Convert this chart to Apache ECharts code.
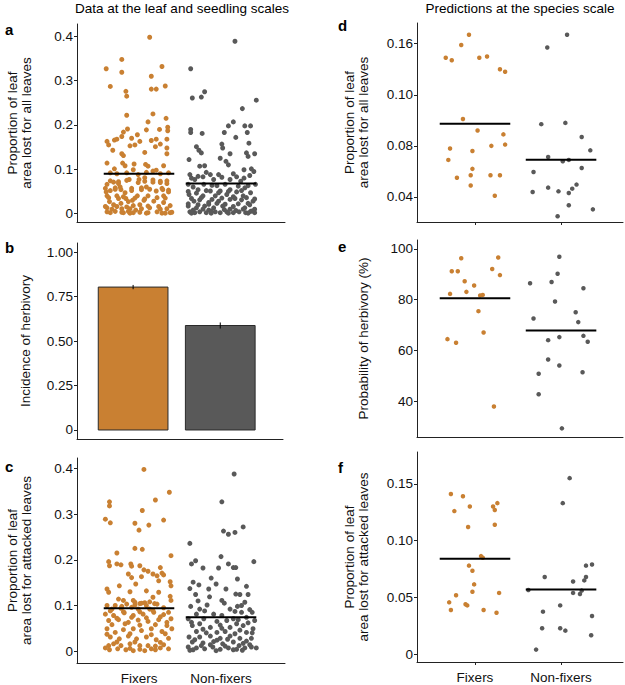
<!DOCTYPE html>
<html><head><meta charset="utf-8">
<script src="https://cdn.jsdelivr.net/npm/echarts@6/dist/echarts.min.js"></script>
<style>html,body{margin:0;padding:0;background:#fff}#c{width:625px;height:685px}</style>
</head><body><div id="c"></div><script>
const groups = ['Fixers', 'Non-fixers'];

// each point: [jitter offset from group centre, value]
const aFixers = [[0.13,0.398],[-0.40,0.327],[-0.21,0.348],[-0.21,0.319],[0.15,0.310],[0.28,0.332],[-0.35,0.287],[-0.16,0.276],[-0.15,0.265],[0.15,0.281],[0.21,0.281],[0.32,0.288],[-0.15,0.222],[0.17,0.225],[0.33,0.215],[0.11,0.207],[0.35,0.195],[0.35,0.187],[-0.14,0.191],[0.25,0.190],[0.09,0.189],[-0.02,0.178],[-0.19,0.184],[-0.39,0.163],[-0.37,0.155],[-0.30,0.166],[-0.27,0.168],[-0.21,0.174],[-0.09,0.170],[0.01,0.163],[0.15,0.165],[0.21,0.168],[0.26,0.157],[0.34,0.168],[-0.11,0.153],[-0.05,0.155],[0.20,0.151],[0.34,0.148],[-0.32,0.143],[-0.21,0.135],[-0.19,0.131],[0.07,0.138],[0.34,0.135],[-0.39,0.114],[-0.20,0.114],[-0.17,0.108],[-0.06,0.112],[0.08,0.111],[0.11,0.107],[0.30,0.108],[-0.30,0.101],[-0.07,0.099],[0.17,0.096],[0.21,0.098],[-0.35,0.092],[-0.27,0.090],[-0.15,0.092],[-0.01,0.088],[0.09,0.093],[0.26,0.090],[0.36,0.092],[-0.39,0.066],[-0.31,0.071],[-0.25,0.068],[-0.12,0.077],[0.00,0.077],[0.07,0.081],[0.17,0.071],[0.26,0.073],[0.34,0.068],[-0.40,0.049],[-0.35,0.052],[-0.29,0.058],[-0.22,0.054],[-0.17,0.047],[-0.09,0.057],[0.03,0.054],[0.09,0.060],[0.21,0.051],[0.29,0.054],[0.36,0.049],[-0.39,0.040],[-0.27,0.040],[-0.16,0.034],[-0.02,0.040],[0.11,0.040],[0.30,0.040],[-0.36,0.027],[-0.22,0.023],[-0.13,0.027],[-0.08,0.030],[0.06,0.030],[0.18,0.028],[0.30,0.025],[-0.39,0.013],[-0.33,0.010],[-0.27,0.016],[-0.21,0.011],[-0.11,0.011],[-0.04,0.008],[0.03,0.011],[0.13,0.013],[0.26,0.010],[0.34,0.011],[-0.39,0.004],[-0.29,0.005],[-0.19,0.002],[-0.07,0.002],[0.09,0.001],[0.22,0.004],[0.38,0.002],[-0.13,0.005],[0.32,0.001],
  [-0.35,0.074],[-0.25,0.072],[-0.15,0.075],[-0.01,0.070],[0.07,0.073],[0.17,0.076],[0.26,0.070],[0.34,0.074],[-0.41,0.057],[-0.29,0.055],[-0.23,0.060],[-0.09,0.052],[0.03,0.058],[0.13,0.055],[0.28,0.057],[0.36,0.053],[-0.37,0.036],[-0.25,0.034],[-0.19,0.038],[-0.05,0.035],[0.07,0.033],[0.22,0.036],[0.32,0.035],[-0.41,0.016],[-0.31,0.020],[-0.15,0.015],[-0.07,0.018],[0.01,0.020],[0.11,0.017],[0.24,0.016],[0.38,0.018],[-0.35,0.002],[-0.21,0.003],[-0.11,0.001],[0.01,0.003],[0.11,0.002],[0.28,0.001],[0.40,0.003]];
const aNonFixers = [[0.17,0.389],[-0.37,0.327],[-0.20,0.275],[-0.24,0.263],[-0.35,0.261],[0.43,0.256],[0.26,0.237],[0.15,0.207],[0.09,0.198],[0.29,0.198],[0.36,0.198],[-0.37,0.190],[-0.37,0.183],[-0.23,0.181],[0.04,0.183],[0.32,0.183],[0.18,0.172],[0.34,0.159],[0.01,0.157],[-0.30,0.151],[-0.27,0.143],[-0.24,0.137],[0.02,0.148],[0.11,0.135],[0.31,0.137],[0.41,0.135],[0.33,0.129],[-0.39,0.122],[-0.01,0.125],[0.06,0.118],[0.09,0.110],[-0.26,0.107],[-0.20,0.108],[0.28,0.099],[0.37,0.101],[0.40,0.095],[-0.18,0.093],[-0.38,0.088],[-0.28,0.084],[-0.13,0.088],[-0.03,0.088],[0.15,0.090],[0.19,0.083],[0.35,0.086],[-0.32,0.077],[-0.09,0.077],[0.11,0.077],[0.24,0.073],[-0.40,0.066],[-0.34,0.060],[-0.21,0.066],[-0.05,0.063],[0.05,0.066],[0.21,0.062],[0.33,0.063],[0.42,0.066],[-0.28,0.054],[-0.13,0.051],[-0.01,0.051],[0.11,0.054],[0.19,0.049],[-0.39,0.043],[-0.22,0.040],[-0.07,0.040],[0.07,0.043],[0.15,0.038],[0.27,0.040],[-0.33,0.028],[-0.26,0.031],[-0.15,0.025],[-0.03,0.028],[0.11,0.032],[0.25,0.031],[0.33,0.023],[0.39,0.028],[-0.40,0.017],[-0.30,0.013],[-0.20,0.017],[-0.09,0.013],[0.02,0.017],[0.15,0.016],[0.29,0.013],[0.41,0.010],[-0.38,0.004],[-0.32,0.002],[-0.26,0.004],[-0.18,0.002],[-0.07,0.004],[-0.01,0.002],[0.07,0.004],[0.15,0.002],[0.22,0.004],[0.30,0.002],[0.36,0.005],[0.41,0.002],[-0.15,0.008],[0.11,0.010],
  [-0.40,0.050],[-0.30,0.046],[-0.18,0.052],[-0.03,0.047],[0.09,0.050],[0.25,0.052],[0.36,0.047],[-0.36,0.034],[-0.24,0.036],[-0.11,0.032],[0.01,0.035],[0.17,0.034],[0.31,0.036],[0.41,0.033],[-0.40,0.022],[-0.28,0.020],[-0.15,0.021],[-0.05,0.023],[0.05,0.021],[0.21,0.022],[0.35,0.020],[-0.34,0.008],[-0.22,0.010],[-0.12,0.006],[0.04,0.009],[0.18,0.007],[0.27,0.010],[0.38,0.006],[-0.36,0.001],[-0.12,0.001],[0.09,0.001],[0.33,0.001],[-0.36,0.080],[-0.22,0.083],[0.01,0.082],[0.28,0.080],[-0.11,0.064],[0.29,0.058]];
const aMeans = [0.090, 0.068];

const bIncidence = [0.803, 0.587];
const bError = [0.012, 0.017];

const cFixers = [[0.06,0.398],[0.37,0.348],[0.20,0.331],[-0.36,0.327],[-0.36,0.318],[0.04,0.308],[-0.41,0.289],[-0.35,0.281],[0.30,0.287],[-0.05,0.280],[0.12,0.276],[0.00,0.265],[-0.27,0.215],[-0.05,0.225],[0.04,0.223],[0.39,0.209],[-0.37,0.196],[-0.36,0.187],[-0.27,0.191],[-0.22,0.189],[-0.10,0.191],[-0.09,0.186],[0.01,0.187],[0.26,0.183],[-0.13,0.169],[-0.09,0.161],[0.03,0.163],[0.06,0.178],[0.11,0.175],[0.17,0.169],[0.22,0.165],[0.28,0.171],[0.30,0.167],[0.24,0.154],[0.38,0.152],[0.39,0.143],[-0.24,0.143],[-0.39,0.136],[-0.37,0.129],[-0.04,0.147],[0.09,0.132],[-0.11,0.130],[0.24,0.129],[0.17,0.118],[0.38,0.120],[-0.25,0.114],[-0.19,0.111],[-0.07,0.111],[0.03,0.105],[0.13,0.108],[0.39,0.111],[-0.39,0.100],[-0.29,0.100],[-0.15,0.103],[-0.05,0.101],[0.09,0.100],[0.22,0.103],[-0.33,0.092],[-0.22,0.094],[-0.09,0.096],[-0.01,0.092],[0.13,0.092],[-0.41,0.081],[-0.31,0.078],[-0.18,0.084],[-0.07,0.078],[0.05,0.081],[0.18,0.085],[0.30,0.080],[0.39,0.071],[-0.37,0.067],[-0.25,0.069],[-0.13,0.063],[-0.01,0.068],[0.11,0.065],[0.24,0.069],[0.34,0.063],[-0.39,0.049],[-0.29,0.041],[-0.19,0.047],[-0.07,0.049],[0.03,0.045],[0.15,0.049],[0.28,0.043],[0.40,0.049],[-0.35,0.031],[-0.24,0.027],[-0.13,0.033],[-0.03,0.027],[0.09,0.031],[0.21,0.025],[0.36,0.028],[-0.37,0.012],[-0.31,0.016],[-0.22,0.012],[-0.11,0.016],[0.01,0.012],[0.11,0.012],[0.20,0.011],[0.30,0.014],[-0.36,0.003],[-0.26,0.005],[-0.16,0.003],[-0.07,0.001],[0.01,0.004],[0.07,0.001],[0.15,0.005],[0.26,0.007],
  [-0.05,0.107],[0.01,0.104],[0.07,0.106],[0.19,0.104],[-0.21,0.098],[0.30,0.095],[-0.35,0.088],[-0.19,0.086],[0.01,0.086],[0.17,0.089],[0.36,0.085],[-0.27,0.072],[-0.09,0.074],[0.09,0.073],[0.26,0.075],[-0.33,0.058],[-0.17,0.060],[0.01,0.057],[0.20,0.058],[0.34,0.056],[-0.39,0.037],[-0.11,0.038],[0.15,0.036],[0.32,0.038],[-0.27,0.020],[-0.05,0.020],[0.26,0.019],[-0.41,0.007],[-0.11,0.006],[0.20,0.003],[0.36,0.005]];
const cNonFixers = [[0.16,0.388],[0.01,0.327],[0.03,0.263],[0.09,0.256],[0.17,0.260],[0.27,0.272],[-0.38,0.236],[0.00,0.207],[-0.36,0.191],[-0.31,0.198],[0.40,0.196],[0.09,0.191],[-0.22,0.182],[-0.03,0.182],[0.15,0.183],[0.18,0.183],[-0.12,0.160],[0.20,0.158],[-0.34,0.151],[-0.27,0.145],[-0.06,0.147],[0.31,0.142],[-0.38,0.137],[-0.15,0.136],[0.06,0.136],[-0.31,0.124],[-0.14,0.119],[0.18,0.125],[0.23,0.124],[0.33,0.124],[0.01,0.111],[0.04,0.105],[-0.17,0.101],[-0.37,0.098],[0.29,0.107],[-0.26,0.092],[0.11,0.092],[0.35,0.091],[0.17,0.087],[0.25,0.085],[0.38,0.085],[-0.30,0.081],[-0.09,0.081],[0.01,0.078],[0.15,0.071],[0.31,0.074],[-0.40,0.071],[-0.21,0.071],[0.07,0.067],[0.21,0.069],[0.41,0.067],[-0.35,0.056],[-0.26,0.060],[-0.13,0.052],[-0.01,0.057],[0.11,0.052],[0.27,0.056],[0.39,0.049],[-0.30,0.043],[-0.18,0.040],[-0.05,0.041],[0.05,0.043],[0.17,0.038],[0.31,0.041],[-0.39,0.031],[-0.26,0.031],[-0.13,0.033],[-0.01,0.028],[0.11,0.033],[0.23,0.028],[0.37,0.028],[-0.35,0.020],[-0.22,0.018],[-0.09,0.021],[0.02,0.016],[0.15,0.020],[0.27,0.017],[-0.40,0.009],[-0.30,0.007],[-0.20,0.005],[-0.10,0.009],[-0.01,0.004],[0.09,0.007],[0.19,0.004],[0.29,0.007],[0.37,0.009],[0.43,0.007],[-0.34,0.003],[0.15,0.003],
  [-0.28,0.110],[0.20,0.098],[-0.20,0.088],[0.25,0.100],[-0.36,0.063],[-0.05,0.065],[0.19,0.060],[0.33,0.062],[-0.22,0.048],[0.01,0.050],[0.23,0.046],[0.38,0.040],[-0.32,0.025],[-0.05,0.024],[0.08,0.026],[0.31,0.022],[-0.24,0.012],[-0.13,0.014],[0.05,0.011],[0.22,0.012],[0.35,0.014],[-0.38,0.002],[-0.06,0.001],[0.26,0.002]];
const cMeans = [0.094, 0.074];

const dFixers = [[-0.07,0.167],[-0.16,0.159],[-0.34,0.149],[-0.27,0.147],[0.05,0.149],[0.14,0.150],[0.29,0.140],[0.35,0.138],[-0.14,0.101],[0.03,0.092],[0.33,0.089],[-0.29,0.078],[0.35,0.081],[0.19,0.080],[-0.03,0.076],[-0.31,0.069],[-0.03,0.062],[-0.05,0.057],[-0.21,0.055],[0.18,0.057],[0.29,0.057],[-0.05,0.049],[0.23,0.041]];
const dNonFixers = [[0.07,0.167],[-0.16,0.157],[-0.23,0.097],[0.05,0.098],[0.24,0.087],[0.34,0.0765],[-0.15,0.0713],[0.02,0.068],[0.09,0.069],[0.24,0.0627],[-0.32,0.0596],[0.18,0.0497],[0.13,0.0465],[-0.15,0.0473],[-0.33,0.0439],[-0.03,0.0444],[0.09,0.0431],[0.09,0.0335],[0.37,0.0303],[-0.04,0.0249]];
const dMeans = [0.0974, 0.0692];

const eFixers = [[-0.16,96.3],[0.27,96.6],[-0.27,91.2],[-0.20,91.2],[0.20,92.1],[0.29,89.7],[-0.12,87.3],[-0.01,85.6],[-0.10,83.1],[-0.29,82.3],[0.06,81.7],[0.09,81.9],[0.04,75.5],[0.10,67.1],[-0.32,64.5],[-0.22,63.1],[0.22,38.0]];
const eNonFixers = [[-0.02,96.9],[-0.36,86.5],[-0.11,87.0],[-0.04,90.2],[0.26,84.5],[-0.07,79.3],[-0.32,72.6],[0.17,75.1],[0.20,71.2],[-0.15,64.1],[-0.02,65.3],[0.26,65.8],[0.31,63.5],[-0.15,56.5],[-0.02,54.1],[-0.26,50.9],[0.25,51.5],[-0.26,42.8],[0.01,29.4]];
const eMeans = [80.6, 67.9];

const fFixers = [[-0.28,0.141],[-0.14,0.139],[-0.24,0.126],[-0.06,0.130],[0.21,0.130],[0.26,0.133],[0.23,0.127],[-0.08,0.112],[0.23,0.114],[0.07,0.0864],[0.09,0.085],[-0.07,0.078],[-0.03,0.0735],[-0.01,0.0615],[-0.03,0.055],[0.28,0.054],[-0.22,0.052],[-0.30,0.0457],[-0.11,0.044],[-0.09,0.043],[-0.28,0.039],[0.10,0.039],[0.25,0.0366]];
const fNonFixers = [[0.10,0.155],[0.02,0.133],[0.36,0.079],[0.29,0.078],[-0.19,0.068],[0.29,0.068],[0.27,0.065],[0.14,0.064],[-0.38,0.0565],[0.14,0.054],[0.22,0.053],[0.24,0.056],[-0.01,0.043],[-0.21,0.0375],[0.36,0.0337],[-0.22,0.0229],[-0.01,0.0229],[0.05,0.0208],[0.35,0.0167],[-0.29,0.0041]];
const fMeans = [0.084, 0.057];

// tick values and labels
const aTicks = [0, 0.1, 0.2, 0.3, 0.4], aLabels = ['0', '0.1', '0.2', '0.3', '0.4'];
const bTicks = [0, 0.25, 0.5, 0.75, 1], bLabels = ['0', '0.25', '0.50', '0.75', '1.00'];
const cTicks = aTicks, cLabels = aLabels;
const dTicks = [0.04, 0.08, 0.12, 0.16], dLabels = ['0.04', '0.08', '0.10', '0.16'];
const eTicks = [40, 60, 80, 100], eLabels = ['40', '60', '80', '100'];
const fTicks = [0, 0.05, 0.10, 0.15], fLabels = ['0', '0.05', '0.10', '0.15'];

const FONT = '"Liberation Sans", Arial, sans-serif';
const COL = ['#C98032', '#595959'];
const AX = '#222';
const TXT = '#111';

function lab(ticks, labels, v) {
  const i = ticks.findIndex(t => Math.abs(t - v) < 1e-9);
  return i < 0 ? '' : labels[i];
}
function yAx(i, min, max, ticks, labels, name, gap) {
  return {
    gridIndex: i, type: 'value', min, max, splitLine: { show: false },
    axisLine: { show: true, onZero: false, lineStyle: { color: AX, width: 1 } },
    axisTick: { show: true, length: 3, customValues: ticks, lineStyle: { color: AX } },
    axisLabel: { customValues: ticks, formatter: v => lab(ticks, labels, v), fontSize: 13.5, color: TXT, margin: 4, fontFamily: FONT },
    name, nameLocation: 'middle', nameGap: gap, nameRotate: 90,
    nameTextStyle: { fontSize: 13.5, lineHeight: 14, color: TXT, fontFamily: FONT }
  };
}
function xAx(i, min, max, showLabels, showTicks) {
  return {
    gridIndex: i, type: 'value', min, max, splitLine: { show: false },
    axisLine: { show: true, onZero: false, lineStyle: { color: AX, width: 1 } },
    axisTick: { show: showTicks, length: 3, customValues: [1, 2], lineStyle: { color: AX } },
    axisLabel: { show: showLabels, customValues: [1, 2], formatter: v => groups[Math.round(v) - 1] || '', fontSize: 13.5, color: TXT, margin: 8, fontFamily: FONT }
  };
}
function scatter(i, pts, g, size) {
  return {
    type: 'scatter', xAxisIndex: i, yAxisIndex: i, symbolSize: size, silent: true,
    itemStyle: { color: COL[g], opacity: 1 },
    data: pts.map(p => [g + 1 + p[0], p[1]])
  };
}
function means(i, vals, half) {
  return {
    type: 'custom', xAxisIndex: i, yAxisIndex: i, silent: true, z: 5,
    data: vals.map((v, k) => [k + 1, v]),
    encode: { x: 0, y: 1 },
    renderItem: (params, api) => {
      const x = api.value(0), y = api.value(1);
      const p1 = api.coord([x - half, y]), p2 = api.coord([x + half, y]);
      return { type: 'line', shape: { x1: p1[0], y1: p1[1], x2: p2[0], y2: p2[1] }, style: { stroke: '#000', lineWidth: 2 } };
    }
  };
}
function bars(i, vals, errs, half) {
  return {
    type: 'custom', xAxisIndex: i, yAxisIndex: i, silent: true,
    data: vals.map((v, k) => [k + 1, v, errs[k]]),
    encode: { x: 0, y: 1 },
    renderItem: (params, api) => {
      const x = api.value(0), y = api.value(1), e = api.value(2);
      const tl = api.coord([x - half, y]), br = api.coord([x + half, 0]);
      const eb1 = api.coord([x, y - e]), eb2 = api.coord([x, y + e]);
      return {
        type: 'group', children: [
          { type: 'rect', shape: { x: tl[0], y: tl[1], width: br[0] - tl[0], height: br[1] - tl[1] },
            style: { fill: COL[params.dataIndex], stroke: '#2a2a2a', lineWidth: 1 } },
          { type: 'line', shape: { x1: eb1[0], y1: eb1[1], x2: eb2[0], y2: eb2[1] }, style: { stroke: '#000', lineWidth: 1 } }
        ]
      };
    }
  };
}

const grids = [
  { left: 77, top: 24, width: 208, height: 198 },
  { left: 77, top: 243, width: 206, height: 196 },
  { left: 77, top: 458, width: 208, height: 206 },
  { left: 417, top: 23, width: 206, height: 199 },
  { left: 417, top: 240, width: 206, height: 197 },
  { left: 417, top: 452, width: 206, height: 210 }
];

const xAxes = [
  xAx(0, 0.244, 2.78, false, false),
  xAx(1, 0.356, 2.72, false, false),
  xAx(2, 0.244, 2.78, true, false),
  xAx(3, 0.326, 2.72, false, true),
  xAx(4, 0.326, 2.72, false, false),
  xAx(5, 0.326, 2.72, true, true)
];
const yAxes = [
  yAx(0, -0.019, 0.428, aTicks, aLabels, 'Proportion of leaf\narea lost for all leaves', 44),
  yAx(1, -0.0506, 1.0506, bTicks, bLabels, 'Incidence of herbivory', 45),
  yAx(2, -0.026, 0.423, cTicks, cLabels, 'Proportion of leaf\narea lost for attacked leaves', 44),
  yAx(3, 0.0204, 0.1762, dTicks, dLabels, 'Proportion of leaf\narea lost for all leaves', 47),
  yAx(4, 26, 103.5, eTicks, eLabels, 'Probability of herbivory (%)', 47),
  yAx(5, -0.0068, 0.178, fTicks, fLabels, 'Proportion of leaf\narea lost for attacked leaves', 47)
];

const series = [
  scatter(0, aFixers, 0, 5), scatter(0, aNonFixers, 1, 5), means(0, aMeans, 0.43),
  bars(1, bIncidence, bError, 0.4),
  scatter(2, cFixers, 0, 5), scatter(2, cNonFixers, 1, 5), means(2, cMeans, 0.43),
  scatter(3, dFixers, 0, 4.5), scatter(3, dNonFixers, 1, 4.5), means(3, dMeans, 0.41),
  scatter(4, eFixers, 0, 4.5), scatter(4, eNonFixers, 1, 4.5), means(4, eMeans, 0.41),
  scatter(5, fFixers, 0, 4.5), scatter(5, fNonFixers, 1, 4.5), means(5, fMeans, 0.41)
];

function txt(x, y, s, size, bold, align) {
  return { type: 'text', x, y, silent: true,
    style: { text: s, fontSize: size, fontWeight: bold ? 'bold' : 'normal', fontFamily: FONT, fill: '#000',
      textAlign: align || 'left', textVerticalAlign: 'middle' } };
}
const graphic = [
  txt(182, 8, 'Data at the leaf and seedling scales', 13.5, false, 'center'),
  txt(520, 8, 'Predictions at the species scale', 13.5, false, 'center'),
  txt(5, 29, 'a', 15, true), txt(5, 247, 'b', 15, true), txt(5, 466, 'c', 15, true),
  txt(338, 25, 'd', 15, true), txt(338, 246, 'e', 15, true), txt(338, 467, 'f', 15, true)
];

const chart = echarts.init(document.getElementById('c'), null, { renderer: 'svg' });
chart.setOption({
  animation: false,
  backgroundColor: '#fff',
  textStyle: { fontFamily: FONT },
  grid: grids, xAxis: xAxes, yAxis: yAxes, series, graphic
});
</script></body></html>
